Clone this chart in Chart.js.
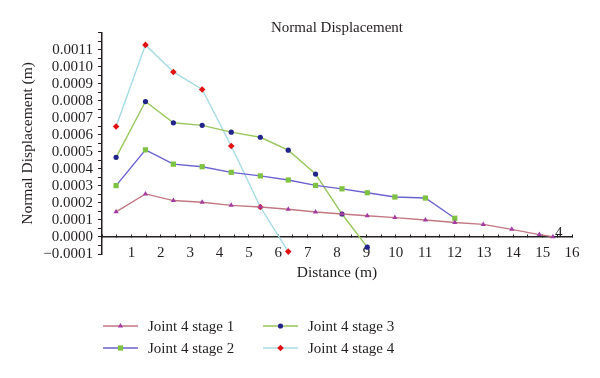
<!DOCTYPE html>
<html>
<head>
<meta charset="utf-8">
<script src="https://cdn.jsdelivr.net/npm/chart.js@4/dist/chart.umd.min.js"></script>
<style>
html,body{margin:0;padding:0;background:#ffffff;}
#wrap{width:600px;height:378px;position:relative;}
</style>
</head>
<body>
<div id="wrap"><canvas id="c" width="600" height="378"></canvas></div>
<script>
// ---- data ----
const chartTitle = 'Normal Displacement';
const xTitle = 'Distance (m)';
const yTitle = 'Normal Displacement (m)';
const seriesNames = ['Joint 4 stage 1', 'Joint 4 stage 2', 'Joint 4 stage 3', 'Joint 4 stage 4'];
const distances = [0.48, 1.48, 2.43, 3.41, 4.40, 5.39, 6.34, 7.27, 8.17, 9.03, 9.97, 11.01, 12.01, 12.98, 13.95, 14.89, 15.35];
const stage1 = [0.000148, 0.000253, 0.000214, 0.000204, 0.000186, 0.000176, 0.000163, 0.000147, 0.000135, 0.000125, 0.000114, 0.000100, 0.000085, 0.000074, 0.000045, 0.000014, 0.000002];
const stage2 = [0.000302, 0.000512, 0.000428, 0.000413, 0.000380, 0.000359, 0.000335, 0.000303, 0.000283, 0.000260, 0.000235, 0.000229, 0.000110];
const stage3 = [0.000468, 0.000796, 0.000671, 0.000656, 0.000616, 0.000586, 0.000510, 0.000370, 0.000135, -0.000060];
const stage4 = [0.000649, 0.001129, 0.000970, 0.000867, 0.000535, 0.000176, -0.000086];
const xTickLabels = ['1','2','3','4','5','6','7','8','9','10','11','12','13','14','15','16'];
const endLabel = '4';

const FONT = '"Liberation Serif", "Times New Roman", serif';
const TEXT = '#231f20';

function pts(vals) { return vals.map((v, i) => ({ x: distances[i], y: v })); }

const lineColors = ['#c27883', '#6a62cf', '#99c75d', '#a6dbe3'];
const markColors = ['#a33ba3', '#7fc142', '#23248a', '#e01212'];
const markStyles = ['triangle', 'rect', 'circle', 'rectRot'];
const markRadius = [3, 3.7, 2.6, 3.3];
const allSeries = [stage1, stage2, stage3, stage4];

const datasets = allSeries.map((s, i) => ({
  label: seriesNames[i],
  data: pts(s),
  borderColor: lineColors[i],
  backgroundColor: lineColors[i],
  borderWidth: 1.4,
  pointBackgroundColor: markColors[i],
  pointBorderColor: markColors[i],
  pointBorderWidth: 0,
  pointStyle: markStyles[i],
  pointRadius: markRadius[i],
  tension: 0,
  clip: false,
  fill: false
}));

const legendPlugin = {
  id: 'twoColLegend',
  afterDraw(chart) {
    const ctx = chart.ctx;
    const slots = [[0, 103, 326], [1, 103, 348], [2, 263, 326], [3, 263, 348]];
    ctx.save();
    slots.forEach(([i, x, y]) => {
      const ds = chart.data.datasets[i];
      ctx.strokeStyle = ds.borderColor;
      ctx.lineWidth = 1.5;
      ctx.beginPath(); ctx.moveTo(x, y); ctx.lineTo(x + 35, y); ctx.stroke();
      ctx.fillStyle = ds.pointBackgroundColor;
      Chart.helpers.drawPoint(ctx, { pointStyle: ds.pointStyle, radius: ds.pointRadius, borderWidth: 0, rotation: 0 }, x + 17.5, y);
      ctx.fillStyle = TEXT;
      ctx.font = '15px ' + FONT;
      ctx.textAlign = 'left';
      ctx.textBaseline = 'middle';
      ctx.fillText(ds.label, x + 45, y + 1);
    });
    ctx.restore();
  }
};

const endLabelPlugin = {
  id: 'endLabel',
  afterDatasetsDraw(chart) {
    const ctx = chart.ctx;
    const xs = chart.scales.x, ys = chart.scales.y;
    const last = stage1.length - 1;
    ctx.save();
    ctx.fillStyle = TEXT;
    ctx.font = '15px ' + FONT;
    ctx.textAlign = 'left';
    ctx.textBaseline = 'alphabetic';
    ctx.fillText(endLabel, xs.getPixelForValue(distances[last]) + 2, ys.getPixelForValue(stage1[last]) + 0.5);
    ctx.restore();
  }
};

new Chart(document.getElementById('c'), {
  type: 'line',
  data: { datasets },
  options: {
    responsive: false,
    devicePixelRatio: 1,
    animation: false,
    layout: { padding: { top: 0, left: 0, right: 28, bottom: 124 } },
    plugins: {
      legend: { display: false },
      tooltip: { enabled: false },
      title: {
        display: true, text: chartTitle, fullSize: false, color: TEXT,
        font: { family: FONT, size: 15, weight: 'normal', lineHeight: 1 },
        padding: { top: 21, bottom: -3.2 }
      }
    },
    scales: {
      x: {
        type: 'linear', position: { y: 0 }, min: 0, max: 16,
        afterFit(s) { s.height = 45; },
        border: { display: true, color: TEXT, width: 1.5 },
        grid: { drawOnChartArea: false, drawTicks: true, tickLength: -3, color: TEXT, lineWidth: 1 },
        ticks: {
          stepSize: 0.5, autoSkip: false, maxRotation: 0, minRotation: 0, maxTicksLimit: 100,
          padding: 10, color: TEXT, font: { family: FONT, size: 15 },
          callback: (v) => (Number.isInteger(v) && v > 0) ? xTickLabels[v - 1] : ''
        },
        title: { display: true, text: xTitle, color: TEXT, font: { family: FONT, size: 15.5 }, padding: 0 }
      },
      y: {
        type: 'linear', position: 'left', min: -0.0001, max: 0.0012,
        afterFit(s) { s.width = 102; },
        border: { display: true, color: TEXT, width: 1.5 },
        grid: { drawOnChartArea: false, drawTicks: true, tickLength: 4, color: TEXT, lineWidth: 1 },
        ticks: {
          stepSize: 0.00005, autoSkip: false, maxTicksLimit: 100, padding: 5,
          color: TEXT, font: { family: FONT, size: 15 },
          callback: (v) => {
            const n = Math.round(v / 0.00005);
            if (n % 2 !== 0 || n >= 24) return '';
            return (n * 0.00005).toFixed(4).replace('-', '\u2212');
          }
        },
        title: { display: true, text: yTitle, color: TEXT, font: { family: FONT, size: 15.5 }, padding: { top: 19, bottom: 0 } }
      }
    }
  },
  plugins: [legendPlugin, endLabelPlugin]
});
</script>
</body>
</html>
